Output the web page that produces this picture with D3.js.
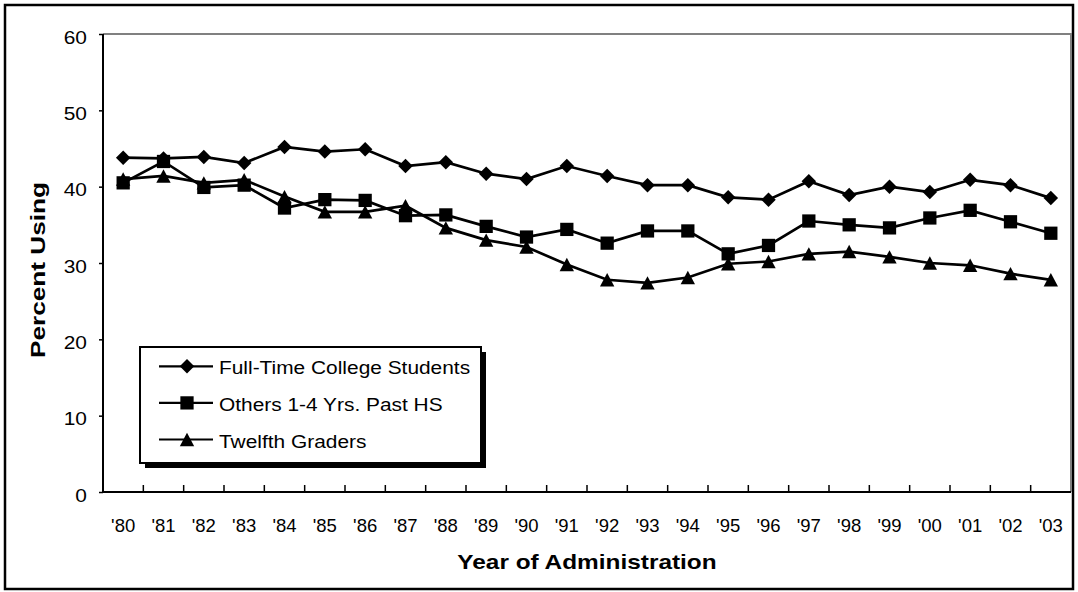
<!DOCTYPE html>
<html><head><meta charset="utf-8">
<script src="https://cdn.jsdelivr.net/npm/d3@7"></script>
<style>body{margin:0;background:#fff}svg{display:block;font-family:"Liberation Sans",Arial,sans-serif}</style>
</head><body><svg id="c" width="1078" height="592"></svg>
<script>
const years = ["'80","'81","'82","'83","'84","'85","'86","'87","'88","'89","'90","'91","'92","'93","'94","'95","'96","'97","'98","'99","'00","'01","'02","'03"];
const fullTime = [43.8,43.7,43.9,43.1,45.2,44.6,44.9,42.7,43.2,41.7,41.0,42.7,41.4,40.2,40.2,38.6,38.3,40.7,38.9,40.0,39.3,40.9,40.2,38.5];
const others = [40.5,43.3,39.9,40.2,37.2,38.3,38.2,36.2,36.3,34.8,33.4,34.4,32.6,34.2,34.2,31.2,32.3,35.5,35.0,34.6,35.9,36.9,35.4,33.9];
const twelfth = [41.0,41.4,40.5,40.9,38.7,36.7,36.7,37.5,34.6,33.0,32.1,29.8,27.8,27.4,28.1,29.9,30.2,31.2,31.5,30.8,30.0,29.7,28.6,27.8];
const yTicks = [0,10,20,30,40,50,60];
const seriesNames = ["Full-Time College Students","Others 1-4 Yrs. Past HS","Twelfth Graders"];

const diamond = {draw(c, s){const r=Math.sqrt(s/2); c.moveTo(0,-r); c.lineTo(r,0); c.lineTo(0,r); c.lineTo(-r,0); c.closePath();}};
const square = {draw(c, s){const h=Math.sqrt(s)/2; c.moveTo(-h,-h); c.lineTo(h,-h); c.lineTo(h,h); c.lineTo(-h,h); c.closePath();}};
const triangle = {draw(c, s){const w=Math.sqrt(2*s/0.93), h=0.93*w; c.moveTo(0,-h/2); c.lineTo(w/2,h/2); c.lineTo(-w/2,h/2); c.closePath();}};

const series = [
  {name: seriesNames[0], values: fullTime, symbol: diamond, size: 105},
  {name: seriesNames[1], values: others, symbol: square, size: 176},
  {name: seriesNames[2], values: twelfth, symbol: triangle, size: 96}
];

const svg = d3.select("#c");
const L = 103, R = 1071, T = 34, B = 492;

svg.append("rect").attr("x",5).attr("y",5).attr("width",1068).attr("height",584)
  .attr("fill","none").attr("stroke","#000").attr("stroke-width",2.5);

const x = d3.scaleBand().domain(years).range([L,R]).padding(0);
const y = d3.scaleLinear().domain([0,60]).range([B,T]);

svg.append("path").attr("d",`M${L},${T}H${R}V${B}`).attr("fill","none").attr("stroke","#808080").attr("stroke-width",2);

// y axis
const yAxis = d3.axisLeft(y).tickValues(yTicks).tickSize(4);
const gy = svg.append("g").attr("transform",`translate(${L},0)`).call(yAxis);
gy.select(".domain").attr("stroke","#000").attr("stroke-width",2).attr("d",`M0,${T}V${B}`);
gy.selectAll(".tick line").attr("stroke","#000").attr("stroke-width",1.5);
gy.selectAll(".tick text").attr("x",null).attr("dy",null)
  .attr("font-size",19).attr("fill","#000").attr("font-family","Liberation Sans, Arial")
  .attr("text-anchor","end")
  .attr("transform","translate(-16,9.3) scale(1.1,1)");

// x axis
const gx = svg.append("g").attr("transform",`translate(0,${B})`);
gx.append("line").attr("x1",L).attr("x2",R).attr("stroke","#000").attr("stroke-width",2);
gx.selectAll(".xt").data(years.slice(1)).join("line").attr("class","xt")
  .attr("x1",d=>x(d)).attr("x2",d=>x(d)).attr("y1",0).attr("y2",-7)
  .attr("stroke","#000").attr("stroke-width",1.5);
gx.selectAll(".xl").data(years).join("text").attr("class","xl")
  .attr("x",d=>x(d)+x.bandwidth()/2).attr("y",39.5).attr("text-anchor","middle")
  .attr("font-size",18.5).attr("fill","#000").text(d=>d);

// titles
svg.append("text").attr("transform",`translate(${(L+R)/2},569) scale(1.22,1)`).attr("text-anchor","middle")
  .attr("font-size",20).attr("font-weight","bold").text("Year of Administration");
svg.append("text").attr("transform",`translate(45,270) rotate(-90) scale(1.31,1)`).attr("text-anchor","middle")
  .attr("font-size",20).attr("font-weight","bold").text("Percent Using");

// lines & markers
const cx = d => x(d) + x.bandwidth()/2;
const line = d3.line().x((v,i)=>cx(years[i])).y(v=>y(v));
series.forEach(s=>{
  svg.append("path").datum(s.values).attr("d",line).attr("fill","none")
    .attr("stroke","#000").attr("stroke-width",2.7);
});
series.forEach(s=>{
  const sym = d3.symbol().type(s.symbol).size(s.size);
  svg.append("g").selectAll("path").data(s.values).join("path")
    .attr("transform",(v,i)=>`translate(${cx(years[i])},${y(v)})`)
    .attr("d",sym).attr("fill","#000");
});

// legend
const lg = svg.append("g");
lg.append("rect").attr("x",145).attr("y",352).attr("width",341).attr("height",116).attr("fill","#000");
lg.append("rect").attr("x",140).attr("y",347).attr("width",341).attr("height",116)
  .attr("fill","#fff").attr("stroke","#000").attr("stroke-width",2);
series.forEach((s,i)=>{
  const yy = 366.3 + i*36.6;
  lg.append("line").attr("x1",159).attr("x2",213).attr("y1",yy).attr("y2",yy).attr("stroke","#000").attr("stroke-width",2.2);
  lg.append("path").attr("transform",`translate(187,${yy})`).attr("d",d3.symbol().type(s.symbol).size(s.size)()).attr("fill","#000");
  lg.append("text").attr("transform",`translate(219,${yy+8}) scale(1.13,1)`).attr("font-size",18.5).text(s.name);
});
</script></body></html>
